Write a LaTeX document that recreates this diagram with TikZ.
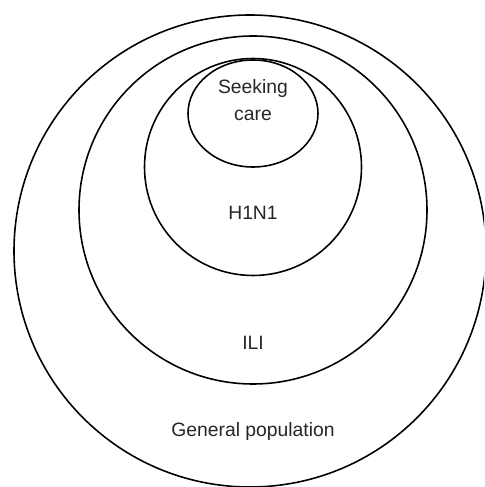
\documentclass[tikz,border=0pt]{standalone}
\usepackage{fontspec}
\setmainfont{Liberation Sans}
\usetikzlibrary{positioning}

\begin{document}
\begin{tikzpicture}[x=0.02cm, y=0.02cm, line width=0.9pt]
    \tikzstyle{ring}=[draw=black]
    \tikzstyle{group}=[font=\fontsize{11}{15}\selectfont, text=black!85, align=center, inner sep=0pt]

    \useasboundingbox (0,0) rectangle (484,487);
    \clip (0,0) rectangle (484,487);

    \draw[ring] (250,236) circle[radius=236];
    \draw[ring] (253,277) circle[radius=174];
    \draw[ring] (253,320) circle[radius=108.5];
    \draw[ring] (253,373.5) ellipse[x radius=65, y radius=53.5];

    \node[group] (seeking) at (253,387) {Seeking\\care};
    \node[group] (h1n1) at (253,274) {H1N1};
    \node[group] (ili) at (253,144) {ILI};
    \node[group] (general) at (253,55) {General population};
\end{tikzpicture}
\end{document}
